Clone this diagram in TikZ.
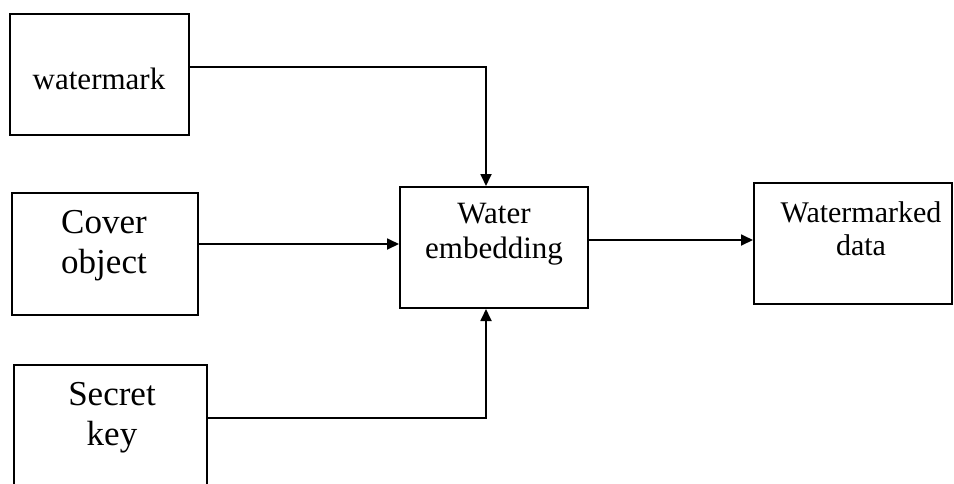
\documentclass[tikz,border=0pt]{standalone}
\usepackage{fontspec}
\setmainfont{Liberation Serif}
\usetikzlibrary{arrows.meta}
\begin{document}
\begin{tikzpicture}[x=1pt,y=-1pt,
  blk/.style={draw,line width=2pt,rectangle,inner sep=0pt},
  lbl/.style={inner sep=0pt,align=center,anchor=base},
  flow/.style={line width=1.8pt,-{Triangle[length=12pt,width=11pt]}},
  bigfont/.style={font=\fontsize{35}{40}\selectfont},
  midfont/.style={font=\fontsize{31}{35}\selectfont},
  smallfont/.style={font=\fontsize{30}{33}\selectfont}]
  \clip (0,0) rectangle (954,483);
  \useasboundingbox (0,0) rectangle (954,483);

  % blocks
  \node[blk,minimum width=179pt,minimum height=121pt] (wm)  at (99.5,74.5) {};
  \node[blk,minimum width=186pt,minimum height=122pt] (cov) at (105,254) {};
  \node[blk,minimum width=193pt,minimum height=150pt] (key) at (110.5,440) {};
  \node[blk,minimum width=188pt,minimum height=121pt] (emb) at (494,247.5) {};
  \node[blk,minimum width=198pt,minimum height=121pt] (out) at (853,243.5) {};

  % labels (multi-line labels sit on the baseline of their last line)
  \node[lbl,midfont]   (wmt)  at (99,89)   {watermark};
  \node[lbl,bigfont]   (covt) at (104,273) {Cover\\object};
  \node[lbl,bigfont]   (keyt) at (112,445) {Secret\\key};
  \node[lbl,midfont]   (embt) at (494,258) {Water\\embedding};
  \node[lbl,smallfont] (outt) at (861,255) {Watermarked\\data};

  % connectors
  \draw[flow] (wm.east |- 0,67) -| (emb.north -| 486,0);
  \draw[flow] (cov.east |- 0,244) -- (emb.west |- 0,244);
  \draw[flow] (key.east |- 0,418) -| (emb.south -| 486,0);
  \draw[flow] (emb.east |- 0,240) -- (out.west |- 0,240);
\end{tikzpicture}
\end{document}
